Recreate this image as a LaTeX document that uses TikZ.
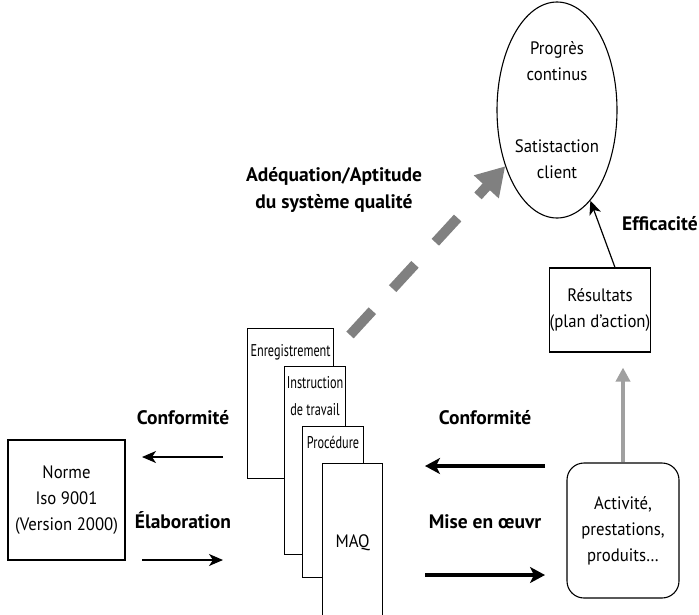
\documentclass[tikz,border=0pt]{standalone}
\usepackage{fontspec}
\setmainfont{PT Sans}[FakeStretch=0.93]
\newfontfamily\lblfont{PT Sans}
\newfontfamily\docfont{PT Sans}[FakeStretch=0.72]
\usetikzlibrary{arrows.meta,shapes.geometric,positioning}
\definecolor{darkgrey}{RGB}{128,128,128}
\definecolor{lightgrey}{RGB}{160,160,160}

\begin{document}
\begin{tikzpicture}[x=1pt, y=-1pt, >={Stealth[length=14pt, width=12pt, inset=4pt]},
    every node/.style={font=\fontsize{18}{26}\selectfont, align=center, inner sep=0pt},
    box/.style={draw, line width=1.1pt, fill=white},
    doc/.style={box, anchor=north west},
    doctext/.style={anchor=north, yshift=-10pt, font=\fontsize{17}{27}\docfont},
    lbl/.style={font=\fontsize{19.5}{27}\lblfont\bfseries},
    normarrow/.style={->, line width=1.2pt},
    boldarrow/.style={-{Stealth[length=15pt, width=16pt, inset=4pt]}, line width=4pt},
    greyarrow/.style={-{Triangle[length=14pt, width=14pt]}, line width=4pt, draw=lightgrey},
    dasharrow/.style={-{Triangle[length=28pt, width=32pt]}, line width=10pt, draw=darkgrey, dash pattern=on 33pt off 30pt}]
    \useasboundingbox (0,0) rectangle (699,614);
    \clip (0,0) rectangle (699,614);

    % Nodes {norme, documents, activite, resultats, progres}
    \node [box, minimum width=117pt, minimum height=120pt]  (norme) at (66.5,500)  {Norme\\Iso 9001\\(Version 2000)};
    \node [doc, minimum width=86pt, minimum height=150pt, label={[doctext, yshift=-6pt]north:Enregistrement}] (enr) at (247,328) {};
    \node [doc, minimum width=61pt, minimum height=188pt, label={[doctext]north:Instruction\\de travail}] (ins)  at (284,366) {};
    \node [doc, minimum width=61pt, minimum height=151pt, label={[doctext]north:Procédure}]           (proc) at (302,426) {};
    \node [doc, minimum width=60pt, minimum height=158pt]   (maq)  at (322,463)   {MAQ};
    \node [box, rounded corners=17pt, minimum width=112pt, minimum height=135pt] (act) at (623,530.5) {Activité,\\prestations,\\produits…};
    \node [box, minimum width=80pt, minimum height=84pt]    (res)  at (600,310)   {Résultats\\(plan d’action)};
    \node [box, ellipse, minimum width=120pt, minimum height=216pt] (prog) at (557,110) {};
    \node                                                   (progtxt) at (prog)   {Progrès\\continus\\[46pt]Satistaction\\client};

    % Labels
    \node [lbl] (conf1) at (183,418) {Conformité};
    \node [lbl] (elab)  at (183,520) {Élaboration};
    \node [lbl] (conf2) at (485,418) {Conformité};
    \node [lbl] (mise)  at (485,522) {Mise en œuvr};
    \node [lbl] (adeq)  at (334,190) {Adéquation/Aptitude\\du système qualité};
    \node [lbl] (eff)   at (660,224) {Efficacité};

    % Arrow ends
    \coordinate (c1a) at (223,457);  \coordinate (c1b) at (142,457);
    \coordinate (e1a) at (142,560);  \coordinate (e1b) at (223,560);
    \coordinate (c2a) at (545,466);  \coordinate (c2b) at (425,466);
    \coordinate (m2a) at (425,575);  \coordinate (m2b) at (545,575);
    \coordinate (adq) at (350,335);

    % Paths
    \draw [normarrow]  (c1a) -- (c1b);
    \draw [normarrow]  (e1a) -- (e1b);
    \draw [boldarrow]  (c2a) -- (c2b);
    \draw [boldarrow]  (m2a) -- (m2b);
    \draw [greyarrow, shorten >=15pt] (act.north) -- (act.north |- res.south);
    \draw [normarrow]  ([xshift=15pt]res.north) -- (prog);
    \draw [dasharrow]  (adq) -- (prog);
\end{tikzpicture}
\end{document}
